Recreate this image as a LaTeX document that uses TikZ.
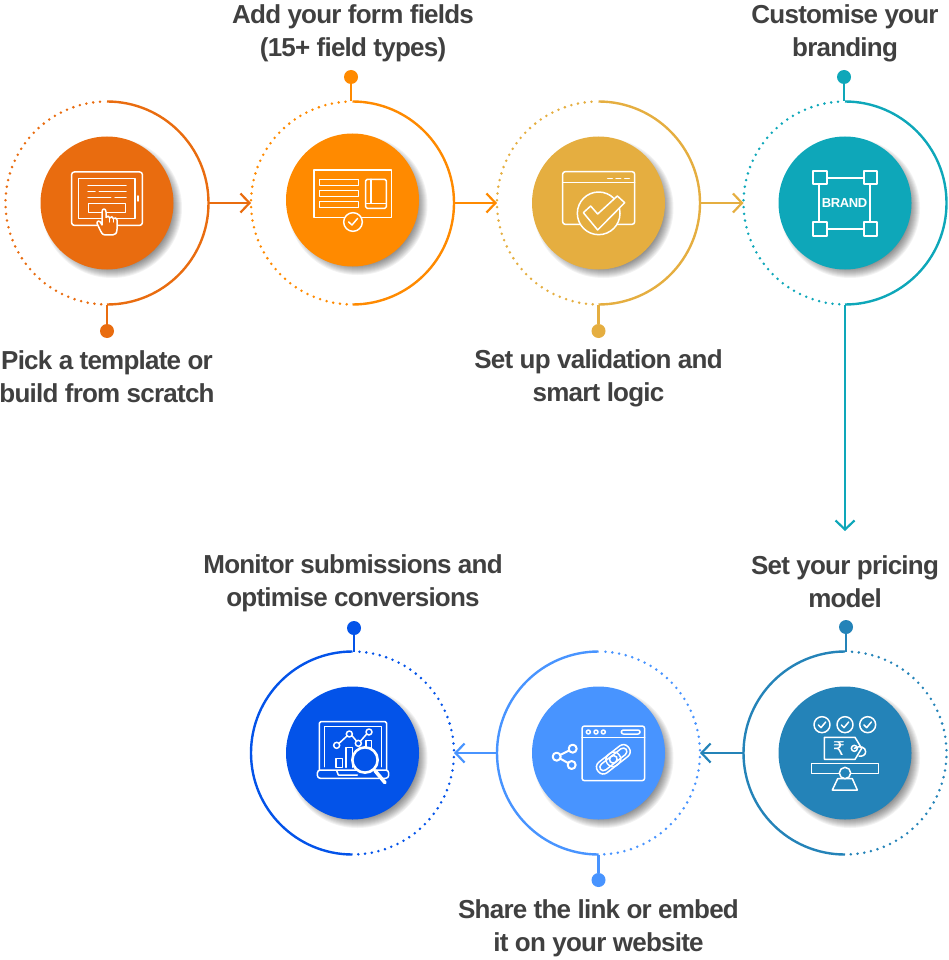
\documentclass[tikz,border=0pt]{standalone}
\usepackage{fontspec}
\setmainfont{Liberation Sans}[LetterSpace=-3]
\newfontfamily\rupeefont{DejaVu Sans}
\usetikzlibrary{arrows.meta}
\definecolor{c1}{HTML}{E96C0F}
\definecolor{c2}{HTML}{FF8A00}
\definecolor{c3}{HTML}{E5AE40}
\definecolor{c4}{HTML}{0EA7B9}
\definecolor{c5}{HTML}{2483B8}
\definecolor{c6}{HTML}{4894FF}
\definecolor{c7}{HTML}{0353E9}
\definecolor{ink}{HTML}{404040}
\tikzset{
  ringnode/.style={circle,minimum size=203pt,inner sep=0pt,outer sep=0pt},
  discnode/.style={circle,minimum size=133pt,inner sep=0pt,outer sep=0pt},
  dotnode/.style={circle,minimum size=14pt,inner sep=0pt,outer sep=0pt},
  solidring/.style={line width=2.4pt},
  dotring/.style={line width=2.8pt,line cap=round,dash pattern=on 0pt off 6.8pt},
  stem/.style={line width=2.4pt},
  flow/.style={line width=2.2pt,-{Straight Barb[length=9pt,width=19pt,line width=2.2pt]}},
  label/.style={font=\fontsize{26}{33}\selectfont\bfseries,text=ink,align=center,inner sep=0pt},
  ico/.style={draw=white,line width=1.5pt,line join=round,line cap=round},
}
\begin{document}
\begin{tikzpicture}[x=1pt,y=-1pt]
\useasboundingbox (0,0) rectangle (948,960);
% shadows, discs, rings
\foreach \n/\x/\y/\dy/\c/\a/\b in {1/107/203/0/c1/-90/270,2/352.5/203/-3/c2/-90/270,3/598.5/203/0/c3/-90/270,4/845/203/0/c4/-90/270,5/845/753/0/c5/270/-90,6/598.5/753/0/c6/270/-90,7/352.5/753/0/c7/270/-90}{
  \node[ringnode] (r\n) at (\x,\y) {};
  \foreach \k in {70,69,...,58}{
    \fill[black,opacity=0.05] (\x+5,\y+\dy+5) circle[radius=\k pt];
  }
  \node[discnode,fill=\c] (disc\n) at (\x,\y+\dy) {};
  \draw[\c,solidring] (r\n.north) arc[start angle=90,end angle=\a,radius=101.5pt];
  \draw[\c,dotring] (\x,\y) ++(\ifnum\a<0 94\else 86\fi:101.5pt) arc[start angle=\ifnum\a<0 94\else 86\fi,end angle=\b,radius=101.5pt];
}
% terminal dots
\node[dotnode,fill=c1] (d1) at (107,331) {};
\node[dotnode,fill=c2] (d2) at (351,77) {};
\node[dotnode,fill=c3] (d3) at (598.5,331) {};
\node[dotnode,fill=c4] (d4) at (844,77) {};
\node[dotnode,fill=c5] (d5) at (846,627) {};
\node[dotnode,fill=c6] (d6) at (598.5,880) {};
\node[dotnode,fill=c7] (d7) at (354,628) {};
\draw[c1,stem] (r1.south) -- (d1);
\draw[c2,stem] (d2) -- (r2.north-|d2);
\draw[c3,stem] (r3.south) -- (d3);
\draw[c4,stem] (d4) -- (r4.north-|d4);
\draw[c5,stem] (d5) -- (r5.north-|d5);
\draw[c6,stem] (r6.south) -- (d6);
\draw[c7,stem] (d7) -- (r7.north-|d7);
% flow arrows
\coordinate (down) at (845,531);
\draw[c1,flow] (r1.east) -- (r2.west);
\draw[c2,flow] (r2.east) -- (r3.west);
\draw[c3,flow] (r3.east) -- (r4.west);
\draw[c4,flow] (r4.south) -- (down);
\draw[c5,flow] (r5.west) -- (r6.east);
\draw[c6,flow] (r6.west) -- (r7.east);
% labels
\node[label] (t1) at (107,377) {Pick a template or\\build from scratch};
\node[label] (t2) at (353,33) {Add your form fields\\(15+ field types)};
\node[label] (t3) at (598.5,378) {Set up validation and\\smart logic};
\node[label] (t4) at (845,33) {Customise your\\branding};
\node[label] (t5) at (845,582) {Set your pricing\\model};
\node[label] (t6) at (598.5,928) {Share the link or embed\\it on your website};
\node[label] (t7) at (353,583) {Monitor submissions and\\optimise conversions};
% icon 1
\begin{scope}[shift={(0,90)},scale=0.33333]
  \draw[ico,rounded corners=2.5pt] (215,246) rectangle (427,406);
  \draw[ico] (236,266) rectangle (405,385);
  \draw[ico] (264,286)--(378,286) (264,304)--(285,304) (298,304)--(378,304) (264,322)--(332,322) (345,322)--(378,322);
  \draw[ico] (265,341) rectangle (376,367);
  \draw[ico] (414,318)--(414,333);
  \draw[ico,fill=c1] (306,392) -- (306,366) .. controls (306,354) and (318,354) .. (318,366) -- (318,382)
    .. controls (322,376) and (329,378) .. (329,384) .. controls (333,378) and (340,380) .. (340,386)
    .. controls (344,381) and (351,384) .. (351,390) -- (351,418) .. controls (351,430) and (345,435) .. (338,435)
    -- (316,435) .. controls (306,435) and (303,425) .. (298,415) -- (291,400) .. controls (290,392) and (300,388) .. (306,405) -- cycle;
  \draw[ico] (329,384)--(329,396) (340,386)--(340,396);
\end{scope}
% icon 2
\begin{scope}[shift={(270,120)},scale=0.33333]
  \draw[ico] (132,150) rectangle (365,292);
  \draw[ico] (148,178) rectangle (266,197) (148,211) rectangle (266,230) (148,244) rectangle (266,263);
  \draw[ico,rounded corners=1.5pt] (287,178) rectangle (349,265);
  \draw[ico] (303,178)--(303,248) (293,250)--(349,250) (287,250)--(293,250);
  \draw[ico,fill=c2] (249,306) circle[radius=28pt];
  \draw[ico] (236,306)--(246,315)--(263,295);
\end{scope}
% icon 3
\begin{scope}[shift={(520,120)},scale=0.33333]
  \draw[ico,rounded corners=2.5pt] (128,155) rectangle (344,313);
  \draw[ico] (128,188)--(344,188);
  \draw[ico] (263,176)--(277,176) (288,176)--(302,176) (314,176)--(328,176);
  \draw[ico,fill=c3] (236,280) circle[radius=64pt];
  \draw[ico,fill=c3] (190,278)--(212,258)--(233,282)--(292,228)--(314,248)--(233,330)--cycle;
\end{scope}
% icon 4
\begin{scope}[shift={(765,120)},scale=0.33333]
  \draw[ico,line width=1.7pt] (143,153) rectangle (185,193) (296,153) rectangle (336,193) (143,307) rectangle (185,347) (296,307) rectangle (336,347);
  \draw[ico,line width=1.7pt] (185,174)--(296,174) (185,327)--(296,327) (163,193)--(163,307) (316,193)--(316,307);
  \node[text=white,font=\fontsize{13}{14}\selectfont\bfseries,inner sep=0pt] (brand) at (239,250) {BRAND};
\end{scope}
% icon 5
\begin{scope}[shift={(765,670)},scale=0.33333]
  \foreach \cx in {171,240,308}{
    \draw[ico] (\cx,164) circle[radius=24pt];
    \draw[ico] (\cx-11,165)--(\cx-3,173)--(\cx+11,156);
  }
  \draw[ico] (178,202)--(270,202)--(290,235)--(270,268)--(178,268)--cycle;
  \node[text=white,font=\fontsize{19}{20}\selectfont\rupeefont,inner sep=0pt] (rupee) at (222,235) {₹};
  \draw[ico] (268,235) circle[radius=9pt];
  \draw[ico] (268,235) .. controls (285,225) and (302,232) .. (302,245) .. controls (302,255) and (292,260) .. (282,258);
  \draw[ico] (140,280) rectangle (340,311);
  \draw[ico] (202,360)--(218,326)--(262,326)--(277,360)--cycle;
  \draw[ico,fill=c5] (240,309) circle[radius=17pt];
\end{scope}
% icon 6
\begin{scope}[shift={(520,670)},scale=0.33333]
  \draw[ico,rounded corners=2.5pt] (186,168) rectangle (374,332);
  \draw[ico] (186,202)--(374,202);
  \foreach \cx in {205,228,250}{\draw[ico] (\cx,186) circle[radius=6pt];}
  \draw[ico,rounded corners=2pt] (304,180) rectangle (360,192);
  \draw[ico,line width=2pt] (110,260)--(158,236) (110,260)--(155,285);
  \draw[ico,line width=2pt,fill=c6] (110,260) circle[radius=12pt] (158,236) circle[radius=12pt] (155,285) circle[radius=12pt];
  \begin{scope}[rotate around={38:(280,268)}]
    \draw[ico,rounded corners=6pt] (222,248) rectangle (302,288);
    \draw[ico,rounded corners=4pt] (231,257) rectangle (292,279);
    \draw[ico,rounded corners=6pt] (258,248) rectangle (338,288);
    \draw[ico,rounded corners=4pt] (268,257) rectangle (329,279);
  \end{scope}
\end{scope}
% icon 7
\begin{scope}[shift={(270,670)},scale=0.33333]
  \draw[ico,rounded corners=1.5pt] (148,300)--(148,155)--(350,155)--(350,300);
  \draw[ico] (163,290)--(163,170)--(335,170)--(335,290);
  \draw[ico,rounded corners=3pt] (142,300)--(142,325)--(356,325)--(356,300)--cycle;
  \draw[ico] (200,302)--(205,315)--(262,315);
  \draw[ico] (207,220)--(231,198) (246,197)--(260,214) (271,214)--(290,192);
  \draw[ico] (200,226) circle[radius=9pt] (238,192) circle[radius=9pt] (297,186) circle[radius=9pt] (265,220) circle[radius=9pt];
  \draw[ico] (198,292)--(198,266)--(217,266)--(217,292)--cycle;
  \draw[ico] (228,292)--(228,232)--(248,232)--(248,292);
  \draw[ico] (288,235)--(288,212)--(305,212)--(305,235);
  \draw[white,line width=3.6pt,line cap=round] (315,302)--(345,338);
  \draw[white,line width=2.6pt,fill=c7] (285,270) circle[radius=38pt];
\end{scope}
\end{tikzpicture}
\end{document}
